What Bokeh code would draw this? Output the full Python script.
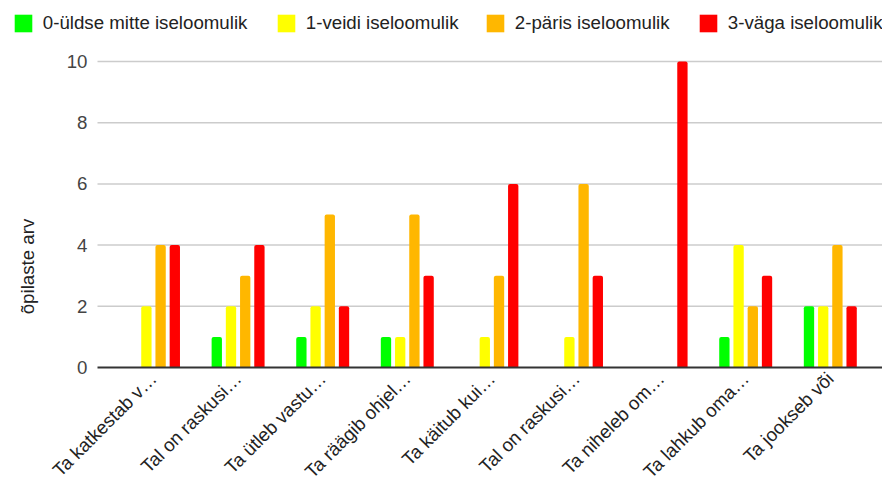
import math
from bokeh.plotting import figure
from bokeh.models import (Range1d, FixedTicker, Legend, LegendItem, Label,
                          ColumnDataSource, LinearAxis)
from bokeh.embed import file_html
from bokeh.resources import INLINE

# ---- data ----
categories = ["Ta katkestab v…", "Tal on raskusi…", "Ta ütleb vastu…",
              "Ta räägib ohjel…", "Ta käitub kui…", "Tal on raskusi…",
              "Ta niheleb om…", "Ta lahkub oma…", "Ta jookseb või"]
series_names = ["0-üldse mitte iseloomulik", "1-veidi iseloomulik",
                "2-päris iseloomulik", "3-väga iseloomulik"]
s0 = [0, 1, 1, 1, 0, 0, 0, 1, 2]
s1 = [2, 2, 2, 1, 1, 1, 0, 4, 2]
s2 = [4, 3, 5, 5, 3, 6, 0, 2, 4]
s3 = [4, 4, 2, 3, 6, 3, 10, 3, 2]
y_ticks = [0, 2, 4, 6, 8, 10]
y_title = "õpilaste arv"

colors = ["#00ff00", "#ffff00", "#ffb700", "#ff0000"]
FONT = "Liberation Sans"
FS = "18.7px"

W, H = 882, 483
XMIN, XMAX = -1.8085, 8.617      # whole canvas in data units
YMIN, YMAX = -3.791, 11.993
PLOT_LEFT = -0.662               # left edge of plotting area

p = figure(width=W, height=H, output_backend="svg", toolbar_location=None,
           x_range=Range1d(XMIN, XMAX), y_range=Range1d(YMIN, YMAX),
           x_axis_location=None, y_axis_location=None,
           min_border=0, min_border_left=0, min_border_right=0,
           min_border_top=0, min_border_bottom=0, outline_line_color=None)
p.xgrid.visible = False
p.ygrid.visible = False

# horizontal grid lines
grid_y = [t for t in y_ticks if t != 0]
p.segment(x0=[PLOT_LEFT] * len(grid_y), x1=[XMAX] * len(grid_y),
          y0=grid_y, y1=grid_y, line_color="#cccccc", line_width=1.5)

idx = list(range(len(categories)))
pitch = 0.168
bw = 0.122
renderers = []
for k, vals in enumerate([s0, s1, s2, s3]):
    off = (k - 1.5) * pitch
    src = ColumnDataSource(dict(x=[i + off for i in idx], top=vals))
    r = p.vbar(x="x", top="top", bottom=0, width=bw, source=src,
               fill_color=colors[k], line_color=None, border_radius=(2, 2, 0, 0))
    renderers.append(r)

# y axis
ya = LinearAxis(fixed_location=PLOT_LEFT, bounds=(0, 10),
                ticker=FixedTicker(ticks=y_ticks))
ya.axis_line_color = None
ya.major_tick_line_color = None
ya.major_tick_out = 0
ya.major_tick_in = 0
ya.minor_tick_line_color = None
ya.major_label_standoff = 10
ya.major_label_text_font = FONT
ya.major_label_text_font_size = FS
ya.major_label_text_color = "#444444"
p.add_layout(ya, "left")

# x axis at zero line
xa = LinearAxis(fixed_location=0, bounds=(PLOT_LEFT, XMAX),
                ticker=FixedTicker(ticks=idx))
xa.major_label_overrides = {i: c for i, c in enumerate(categories)}
xa.axis_line_color = "#333333"
xa.axis_line_width = 2
xa.major_tick_line_color = None
xa.major_tick_out = 0
xa.major_tick_in = 0
xa.minor_tick_line_color = None
xa.major_label_orientation = math.pi / 4
xa.major_label_standoff = 8
xa.major_label_text_font = FONT
xa.major_label_text_font_size = FS
xa.major_label_text_color = "#222222"
p.add_layout(xa, "below")

# y title
p.add_layout(Label(x=26.5, y=H - 266, x_units="screen", y_units="screen",
                   text=y_title, angle=math.pi / 2, text_align="center",
                   text_baseline="alphabetic", text_font=FONT,
                   text_font_size=FS, text_color="#222222"))

# legend, one per entry
leg_x = [14, 277, 486, 699]
for k in range(4):
    leg = Legend(items=[LegendItem(label=series_names[k], renderers=[renderers[k]])],
                 location=(leg_x[k] - 2.2, H - 11.8 - 22), orientation="horizontal",
                 glyph_width=22, glyph_height=22, label_standoff=9,
                 padding=0, margin=0, border_line_color=None,
                 background_fill_alpha=0, label_text_font=FONT,
                 label_text_font_size=FS, label_text_color="#222222")
    p.add_layout(leg, "center")

open("out.html", "w").write(file_html(p, INLINE))
